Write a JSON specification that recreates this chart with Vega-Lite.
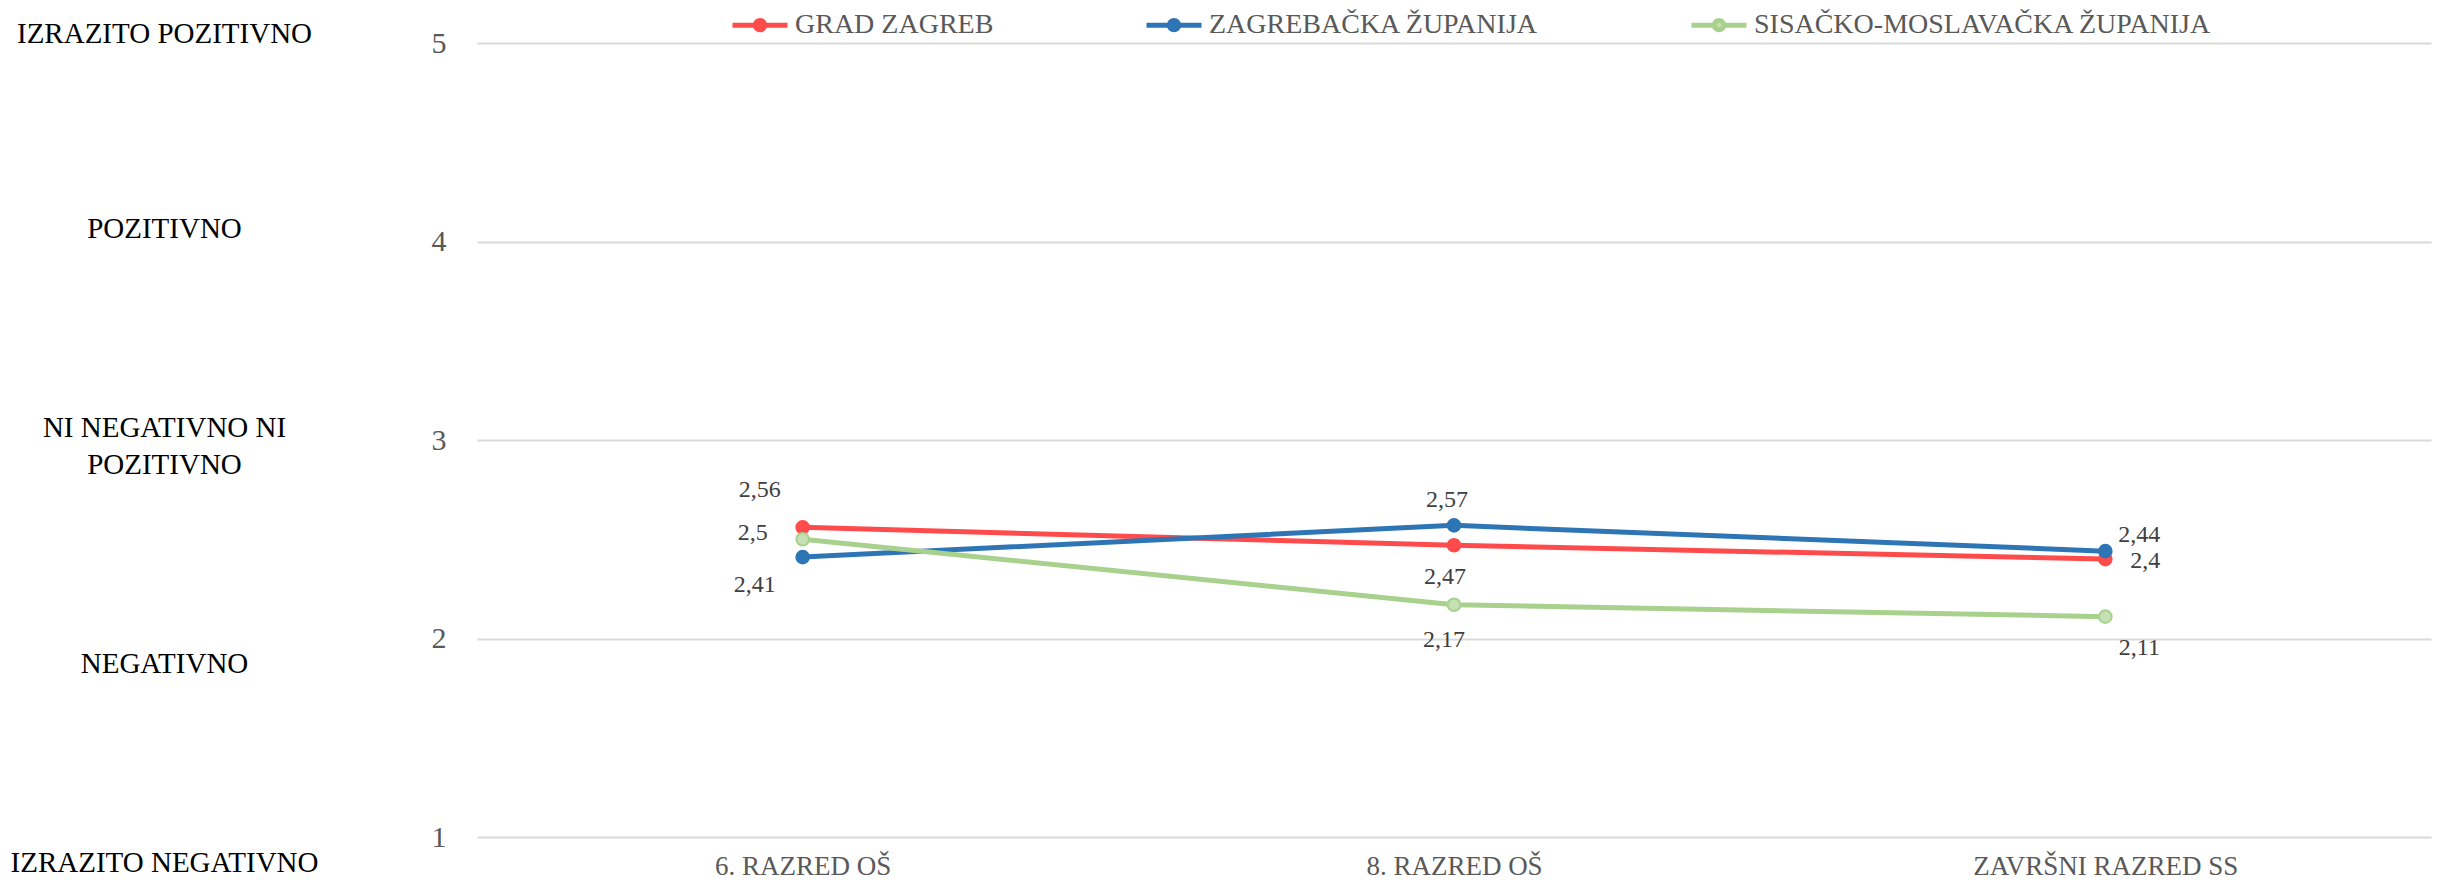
{
  "$schema": "https://vega.github.io/schema/vega-lite/v6.json",
  "width": 1954,
  "height": 794,
  "autosize": {"type": "none"},
  "padding": {"left": 477, "top": 43, "right": 14, "bottom": 51},
  "background": "white",
  "data": {
    "values": [
      {"series": "GRAD ZAGREB", "cat": "6. RAZRED OŠ", "v": 2.56},
      {"series": "GRAD ZAGREB", "cat": "8. RAZRED OŠ", "v": 2.47},
      {"series": "GRAD ZAGREB", "cat": "ZAVRŠNI RAZRED SS", "v": 2.40},
      {"series": "ZAGREBAČKA ŽUPANIJA", "cat": "6. RAZRED OŠ", "v": 2.41},
      {"series": "ZAGREBAČKA ŽUPANIJA", "cat": "8. RAZRED OŠ", "v": 2.57},
      {"series": "ZAGREBAČKA ŽUPANIJA", "cat": "ZAVRŠNI RAZRED SS", "v": 2.44},
      {"series": "SISAČKO-MOSLAVAČKA ŽUPANIJA", "cat": "6. RAZRED OŠ", "v": 2.50},
      {"series": "SISAČKO-MOSLAVAČKA ŽUPANIJA", "cat": "8. RAZRED OŠ", "v": 2.17},
      {"series": "SISAČKO-MOSLAVAČKA ŽUPANIJA", "cat": "ZAVRŠNI RAZRED SS", "v": 2.11}
    ]
  },
  "encoding": {
    "x": {
      "field": "cat", "type": "nominal",
      "sort": ["6. RAZRED OŠ", "8. RAZRED OŠ", "ZAVRŠNI RAZRED SS"],
      "scale": {"type": "point", "padding": 0.5},
      "axis": {"title": null, "domain": false, "ticks": false, "tickSize": 0, "grid": false, "labelPadding": 16, "labelFont": "Liberation Serif", "labelFontSize": 27, "labelColor": "#595959", "labelAngle": 0, "labelBaseline": "top", "labelLimit": 500}
    },
    "y": {"field": "v", "type": "quantitative", "scale": {"domain": [1, 5], "nice": false, "zero": false}, "axis": null}
  },
  "layer": [
    {
      "mark": {"type": "line", "strokeWidth": 5},
      "encoding": {
        "y": {"field": "v", "type": "quantitative", "scale": {"domain": [1, 5], "nice": false, "zero": false},
          "axis": {"orient": "left", "values": [1, 2, 3, 4, 5], "grid": true, "gridColor": "#D9D9D9", "gridWidth": 2, "domain": false, "ticks": false, "tickSize": 0, "labelPadding": 31, "labelFont": "Liberation Serif", "labelFontSize": 30, "labelColor": "#595959", "labelBaseline": "middle", "labelFlush": false, "labelOverlap": false, "title": null}},
        "stroke": {"field": "series", "type": "nominal",
          "scale": {"domain": ["GRAD ZAGREB", "ZAGREBAČKA ŽUPANIJA", "SISAČKO-MOSLAVAČKA ŽUPANIJA"], "range": ["#FF4B4B", "#2E75B6", "#A9D18E"]},
          "legend": {"title": null, "orient": "none", "legendX": 253, "legendY": -48, "direction": "horizontal", "symbolType": "M-1,0L-0.17,0M0.17,0L1,0M-0.17,0A0.17,0.17 0 1,1 0.17,0A0.17,0.17 0 1,1 -0.17,0Z", "symbolSize": 3025, "symbolStrokeWidth": 5, "labelFont": "Liberation Serif", "labelFontSize": 28, "labelColor": "#595959", "labelOffset": 5, "columnPadding": 142, "labelLimit": 600}}
      }
    },
    {
      "mark": {"type": "point", "filled": true, "size": 160, "strokeWidth": 2, "opacity": 1},
      "encoding": {
        "y": {"field": "v", "type": "quantitative", "scale": {"domain": [1, 5], "nice": false, "zero": false},
          "axis": {"orient": "left", "values": [1, 2, 3, 4, 5], "grid": false, "domain": false, "ticks": false, "tickSize": 0, "labelPadding": 313, "labelAlign": "center", "labelBaseline": "middle", "labelFont": "Liberation Serif", "labelFontSize": 29, "labelColor": "#000000", "labelLimit": 500, "labelLineHeight": 37, "labelFlush": false, "labelOverlap": false, "title": null,
            "labelExpr": "datum.value == 5 ? 'IZRAZITO POZITIVNO' : datum.value == 4 ? 'POZITIVNO' : datum.value == 3 ? ['NI NEGATIVNO NI', 'POZITIVNO'] : datum.value == 2 ? 'NEGATIVNO' : 'IZRAZITO NEGATIVNO'",
            "labelOffset": {"condition": [{"test": "datum.value == 5", "value": -10}, {"test": "datum.value == 4", "value": -13}, {"test": "datum.value == 3", "value": -13}], "value": 25}}},
        "stroke": {"field": "series", "type": "nominal",
          "scale": {"domain": ["GRAD ZAGREB", "ZAGREBAČKA ŽUPANIJA", "SISAČKO-MOSLAVAČKA ŽUPANIJA"], "range": ["#FF4B4B", "#2E75B6", "#A9D18E"]},
          "legend": {"title": null, "orient": "none", "legendX": 253, "legendY": -48, "direction": "horizontal", "symbolType": "M-1,0L-0.17,0M0.17,0L1,0M-0.17,0A0.17,0.17 0 1,1 0.17,0A0.17,0.17 0 1,1 -0.17,0Z", "symbolSize": 3025, "symbolStrokeWidth": 5, "labelFont": "Liberation Serif", "labelFontSize": 28, "labelColor": "#595959", "labelOffset": 5, "columnPadding": 142, "labelLimit": 600}},
        "fill": {"field": "series", "type": "nominal",
          "scale": {"domain": ["GRAD ZAGREB", "ZAGREBAČKA ŽUPANIJA", "SISAČKO-MOSLAVAČKA ŽUPANIJA"], "range": ["#FF4B4B", "#2E75B6", "#C5E0B4"]},
          "legend": {"title": null, "orient": "none", "legendX": 253, "legendY": -48, "direction": "horizontal", "symbolType": "M-1,0L-0.17,0M0.17,0L1,0M-0.17,0A0.17,0.17 0 1,1 0.17,0A0.17,0.17 0 1,1 -0.17,0Z", "symbolSize": 3025, "symbolStrokeWidth": 5, "labelFont": "Liberation Serif", "labelFontSize": 28, "labelColor": "#595959", "labelOffset": 5, "columnPadding": 142, "labelLimit": 600}}
      }
    },
    {
      "transform": [{"filter": "datum.series == 'GRAD ZAGREB' && datum.cat == '6. RAZRED OŠ'"}],
      "mark": {"type": "text", "dx": -43, "dy": -37, "font": "Liberation Serif", "fontSize": 24, "color": "#404040"},
      "encoding": {"text": {"field": "v", "type": "quantitative", "format": ".3~g"}}
    },
    {
      "transform": [{"filter": "datum.series == 'SISAČKO-MOSLAVAČKA ŽUPANIJA' && datum.cat == '6. RAZRED OŠ'"}],
      "mark": {"type": "text", "dx": -50, "dy": -6, "font": "Liberation Serif", "fontSize": 24, "color": "#404040"},
      "encoding": {"text": {"field": "v", "type": "quantitative", "format": ".3~g"}}
    },
    {
      "transform": [{"filter": "datum.series == 'ZAGREBAČKA ŽUPANIJA' && datum.cat == '6. RAZRED OŠ'"}],
      "mark": {"type": "text", "dx": -48, "dy": 28, "font": "Liberation Serif", "fontSize": 24, "color": "#404040"},
      "encoding": {"text": {"field": "v", "type": "quantitative", "format": ".3~g"}}
    },
    {
      "transform": [{"filter": "datum.series == 'ZAGREBAČKA ŽUPANIJA' && datum.cat == '8. RAZRED OŠ'"}],
      "mark": {"type": "text", "dx": -7, "dy": -25, "font": "Liberation Serif", "fontSize": 24, "color": "#404040"},
      "encoding": {"text": {"field": "v", "type": "quantitative", "format": ".3~g"}}
    },
    {
      "transform": [{"filter": "datum.series == 'GRAD ZAGREB' && datum.cat == '8. RAZRED OŠ'"}],
      "mark": {"type": "text", "dx": -9, "dy": 32, "font": "Liberation Serif", "fontSize": 24, "color": "#404040"},
      "encoding": {"text": {"field": "v", "type": "quantitative", "format": ".3~g"}}
    },
    {
      "transform": [{"filter": "datum.series == 'SISAČKO-MOSLAVAČKA ŽUPANIJA' && datum.cat == '8. RAZRED OŠ'"}],
      "mark": {"type": "text", "dx": -10, "dy": 35, "font": "Liberation Serif", "fontSize": 24, "color": "#404040"},
      "encoding": {"text": {"field": "v", "type": "quantitative", "format": ".3~g"}}
    },
    {
      "transform": [{"filter": "datum.series == 'ZAGREBAČKA ŽUPANIJA' && datum.cat == 'ZAVRŠNI RAZRED SS'"}],
      "mark": {"type": "text", "align": "right", "dx": 55, "dy": -16, "font": "Liberation Serif", "fontSize": 24, "color": "#404040"},
      "encoding": {"text": {"field": "v", "type": "quantitative", "format": ".3~g"}}
    },
    {
      "transform": [{"filter": "datum.series == 'GRAD ZAGREB' && datum.cat == 'ZAVRŠNI RAZRED SS'"}],
      "mark": {"type": "text", "align": "right", "dx": 55, "dy": 2, "font": "Liberation Serif", "fontSize": 24, "color": "#404040"},
      "encoding": {"text": {"field": "v", "type": "quantitative", "format": ".3~g"}}
    },
    {
      "transform": [{"filter": "datum.series == 'SISAČKO-MOSLAVAČKA ŽUPANIJA' && datum.cat == 'ZAVRŠNI RAZRED SS'"}],
      "mark": {"type": "text", "dx": 34, "dy": 31, "font": "Liberation Serif", "fontSize": 24, "color": "#404040"},
      "encoding": {"text": {"field": "v", "type": "quantitative", "format": ".3~g"}}
    }
  ],
  "resolve": {"axis": {"y": "independent"}},
  "config": {
    "view": {"stroke": null},
    "locale": {"number": {"decimal": ",", "thousands": ".", "grouping": [3], "currency": ["", " €"]}}
  }
}
